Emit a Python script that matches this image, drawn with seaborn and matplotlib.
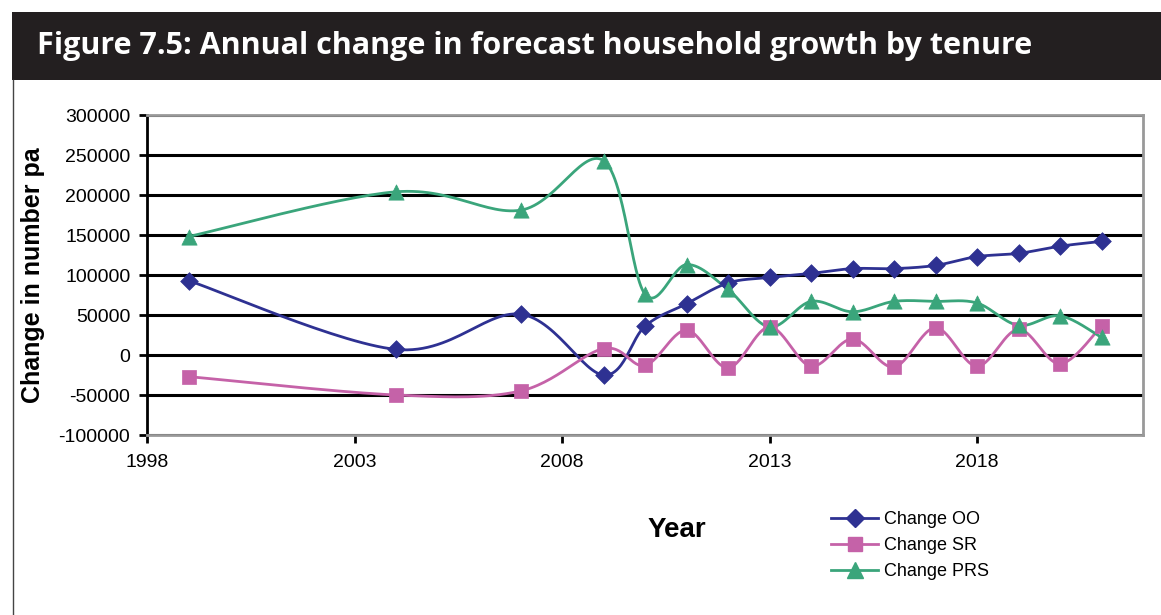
import numpy as np
import pandas as pd
import matplotlib
matplotlib.use("Agg")
import matplotlib.pyplot as plt
import seaborn as sb
from matplotlib.patches import Rectangle
from matplotlib.lines import Line2D

# Data
years = [1999, 2004, 2007, 2009, 2010, 2011, 2012, 2013, 2014, 2015, 2016, 2017, 2018, 2019, 2020, 2021]
change_oo = [93000, 7000, 51000, -25000, 36000, 64000, 90000, 97000, 102000, 108000, 108000, 112000, 123000, 127000, 136000, 142000]
change_sr = [-27000, -50000, -45000, 8000, -13000, 31000, -16000, 35000, -14000, 20000, -15000, 34000, -14000, 32000, -11000, 36000]
change_prs = [148000, 204000, 181000, 243000, 76000, 113000, 82000, 35000, 67000, 54000, 67000, 67000, 65000, 37000, 49000, 22000]

series = [('Change OO', change_oo, '#2e3192', 'D', 9),
          ('Change SR', change_sr, '#c562a8', 's', 10),
          ('Change PRS', change_prs, '#3aa57b', '^', 11)]

x_ticks = [1998, 2003, 2008, 2013, 2018]
y_ticks = list(range(-100000, 300001, 50000))


def smooth(xs, ys, n=30):
    # Excel-style smoothed line (Catmull-Rom bezier) drawn through the points
    xs = np.asarray(xs, float)
    ys = np.asarray(ys, float)
    px, py = [], []
    for i in range(len(xs) - 1):
        x0, y0 = (xs[i - 1], ys[i - 1]) if i > 0 else (xs[i], ys[i])
        x3, y3 = (xs[i + 2], ys[i + 2]) if i + 2 < len(xs) else (xs[i + 1], ys[i + 1])
        x1, y1, x2, y2 = xs[i], ys[i], xs[i + 1], ys[i + 1]
        c1 = (x1 + (x2 - x0) / 6, y1 + (y2 - y0) / 6)
        c2 = (x2 - (x3 - x1) / 6, y2 - (y3 - y1) / 6)
        t = np.linspace(0, 1, n)
        bx = (1 - t) ** 3 * x1 + 3 * (1 - t) ** 2 * t * c1[0] + 3 * (1 - t) * t ** 2 * c2[0] + t ** 3 * x2
        by = (1 - t) ** 3 * y1 + 3 * (1 - t) ** 2 * t * c1[1] + 3 * (1 - t) * t ** 2 * c2[1] + t ** 3 * y2
        px.extend(bx)
        py.extend(by)
    return pd.DataFrame({'x': px, 'y': py})


W, H = 1161, 615
fig = plt.figure(figsize=(W / 100, H / 100), dpi=100)
plt.rcParams['font.family'] = ['Liberation Sans', 'DejaVu Sans']

# Title banner
fig.patches.append(Rectangle((12 / W, 1 - 80 / H), 1, 68 / H, transform=fig.transFigure,
                             facecolor='#231f20', edgecolor='none'))
fig.text(37 / W, 1 - 46 / H, 'Figure 7.5: Annual change in forecast household growth by tenure',
         color='white', fontsize=22, fontweight='bold', family=['Open Sans', 'DejaVu Sans'],
         va='center', ha='left')
fig.add_artist(Line2D([12.5 / W, 12.5 / W], [0, 1 - 80 / H], transform=fig.transFigure,
                      color='#444444', lw=1))

ax = fig.add_axes([147 / W, 1 - 435 / H, (1143 - 147) / W, 320 / H])

for name, vals, color, marker, ms in series:
    sm = smooth(years, vals)
    sb.lineplot(data=sm, x='x', y='y', ax=ax, color=color, lw=2, sort=False, estimator=None)
    sb.scatterplot(x=years, y=vals, ax=ax, color=color, marker=marker, s=ms ** 2,
                   edgecolor=color, linewidth=0.5, zorder=5)

ax.set_xlim(1998, 2022)
ax.set_ylim(-100000, 300000)
ax.set_xticks(x_ticks)
ax.set_yticks(y_ticks)
ax.set_xticklabels([str(v) for v in x_ticks], fontsize=14)
ax.set_yticklabels([str(v) for v in y_ticks], fontsize=14)
ax.yaxis.grid(True, color='black', lw=2.2)
ax.set_axisbelow(True)
ax.tick_params(axis='both', direction='out', length=6, width=2, color='black', pad=8)
ax.tick_params(axis='y', pad=6)
for s in ['top', 'right', 'bottom']:
    ax.spines[s].set_color('#999999')
    ax.spines[s].set_linewidth(2)
ax.spines['left'].set_color('black')
ax.spines['left'].set_linewidth(2)
ax.set_xlabel('')
ax.set_ylabel('Change in number pa', fontsize=18, fontweight='bold', labelpad=10)

fig.text(677 / W, 1 - 530 / H, 'Year', fontsize=20, fontweight='bold', ha='center', va='center')

handles = [Line2D([], [], color=c, marker=m, markersize=ms, lw=2, label=n)
           for n, v, c, m, ms in series]
fig.legend(handles=handles, loc='upper left', bbox_to_anchor=(815 / W, 1 - 495 / H),
           frameon=False, fontsize=13, handlelength=2.6, handletextpad=0.3, labelspacing=0.5)

fig.savefig('out.png', dpi=100)
